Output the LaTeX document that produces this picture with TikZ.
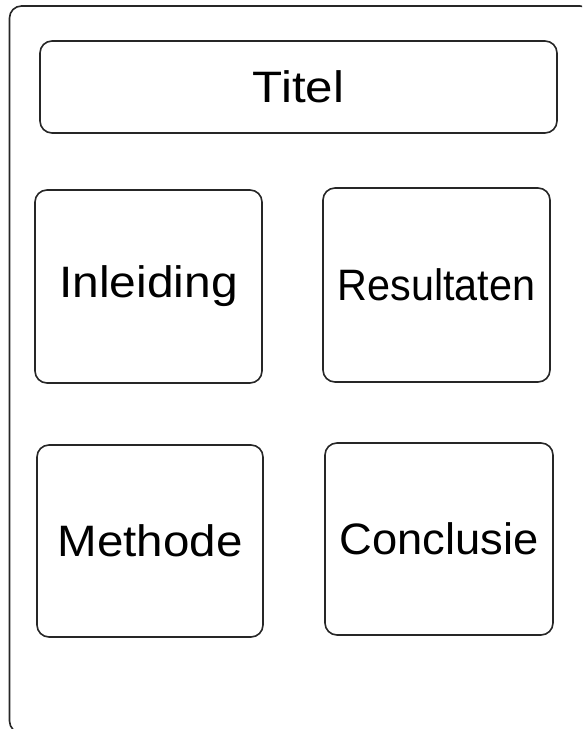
\documentclass[tikz,border=0pt]{standalone}
\usepackage{fontspec}
\setmainfont{Liberation Sans}
\newcommand{\wtxt}[2]{\scalebox{#1}[1]{#2}}
\begin{document}
\begin{tikzpicture}[x=1pt,y=-1pt,
  outline/.style={draw=black!85, line width=1.6pt, rounded corners=12pt, rectangle, inner sep=0pt},
  panel/.style={outline, font=\fontsize{44}{52}\selectfont, text=black}]
\useasboundingbox (0,0) rectangle (582,729);
\clip (0,0) rectangle (582,729);
\fill[white] (0,0) rectangle (582,729);
\node[outline, minimum width=582.5pt, minimum height=727pt] (frame) at (300.75,369.5) {};
\node[panel, minimum width=517pt, minimum height=92pt] (titel) at (298.5,87) {\wtxt{1.12}{Titel}};
\node[panel, minimum width=227pt, minimum height=193pt] (inleiding) at (148.5,286.5) {\wtxt{1.09}{Inleiding}};
\node[panel, minimum width=227pt, minimum height=194pt] (resultaten) at (436.5,285) {\wtxt{0.94}{Resultaten}};
\node[panel, minimum width=226pt, minimum height=192pt] (methode) at (150,541) {\wtxt{1.08}{Methode}};
\node[panel, minimum width=228pt, minimum height=192pt] (conclusie) at (439,539) {\wtxt{1.03}{Conclusie}};
\end{tikzpicture}
\end{document}
